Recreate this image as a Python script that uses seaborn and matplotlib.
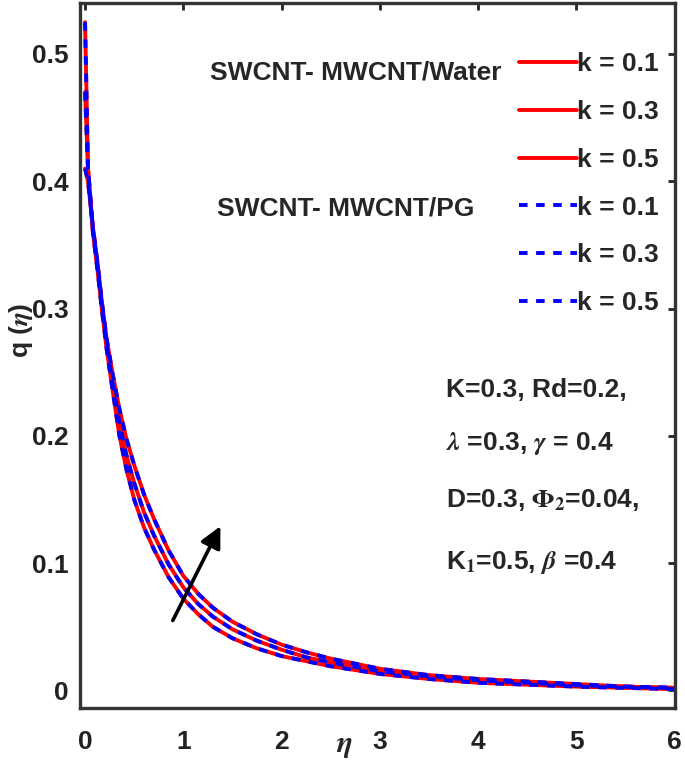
# q(eta) profiles for SWCNT-MWCNT hybrid nanofluids, k varied
import numpy as np
import pandas as pd
import seaborn as sns
import matplotlib.pyplot as plt

# values
eta = [0, 0.03, 0.08, 0.13, 0.17, 0.22, 0.28, 0.35, 0.42, 0.5, 0.6, 0.7, 0.85, 1.0, 1.15, 1.3, 1.5,
       1.75, 2.0, 2.25, 2.5, 3.0, 3.5, 4.0, 4.5, 5.0, 5.5, 6.0]
k_values = ["0.1", "0.3", "0.5"]
q_k01 = [0.525, 0.41, 0.360, 0.328, 0.300, 0.268, 0.236, 0.200, 0.174, 0.150, 0.128, 0.111, 0.089, 0.072,
         0.060, 0.050, 0.041, 0.033, 0.027, 0.023, 0.019, 0.013, 0.009, 0.006, 0.0045, 0.003, 0.002, 0.001]
q_k03 = [0.470, 0.41, 0.362, 0.331, 0.303, 0.272, 0.242, 0.210, 0.185, 0.163, 0.140, 0.122, 0.099, 0.081,
         0.068, 0.058, 0.048, 0.039, 0.032, 0.026, 0.022, 0.015, 0.011, 0.008, 0.006, 0.004, 0.003, 0.002]
q_k05 = [0.410, 0.40, 0.364, 0.334, 0.306, 0.276, 0.249, 0.221, 0.198, 0.177, 0.154, 0.135, 0.110, 0.090,
         0.076, 0.065, 0.054, 0.044, 0.036, 0.030, 0.025, 0.017, 0.012, 0.009, 0.007, 0.005, 0.003, 0.002]

water = pd.DataFrame({"eta": eta * 3,
                      "q": q_k01 + q_k03 + q_k05,
                      "k": sum([[k] * len(eta) for k in k_values], [])})
pg = water.copy()   # PG curves sit on top of the water curves

sns.set_style("white")
plt.rcParams['font.family'] = ['Liberation Sans', 'DejaVu Sans']
plt.rcParams['font.weight'] = 'bold'
plt.rcParams['mathtext.fontset'] = 'stix'

fig = plt.figure(figsize=(6.85, 7.69), dpi=100)
ax = fig.add_axes([0.117, 0.079, 0.868, 0.917])

fs = 19
for k in k_values:
    sns.lineplot(data=water[water.k == k], x="eta", y="q", color="red", lw=2.8,
                 label=f"k = {k}", ax=ax, estimator=None, sort=False)
for k in k_values:
    sns.lineplot(data=pg[pg.k == k], x="eta", y="q", color="blue", lw=2.8,
                 linestyle=(0, (2.2, 2.2)), label=f"k = {k}", ax=ax, estimator=None, sort=False)

ax.set_xlim(-0.05, 6)
ax.set_ylim(-0.014, 0.54)
ax.set_xticks(np.arange(0, 7, 1))
ax.set_yticks([0, 0.1, 0.2, 0.3, 0.4, 0.5])
ax.set_yticklabels(["0", "0.1", "0.2", "0.3", "0.4", "0.5"])
ax.tick_params(direction='in', length=5, width=2, top=True, right=True, labelsize=fs, colors='#222222')
ax.tick_params(axis='x', pad=16)
ax.tick_params(axis='y', pad=8)
for s in ax.spines.values():
    s.set_linewidth(2.4)
    s.set_color('#333333')

ax.set_xlabel("")
ax.set_ylabel("")
fig.text(0.03, 0.57, r"q ($\eta$)", fontsize=fs, fontweight='bold', rotation=90, ha='center', va='center')
ax.text(2.64, -0.043, r"$\eta$", fontsize=fs + 3, ha='center', va='center')

leg = ax.legend(loc='upper left', bbox_to_anchor=(0.738, 0.93), frameon=False, fontsize=fs,
                handlelength=2.2, handletextpad=0.0, labelspacing=0.9, borderpad=0, borderaxespad=0)

ax.text(0.464, 0.902, "SWCNT- MWCNT/Water", transform=ax.transAxes, fontsize=fs, ha='center', va='center')
ax.text(0.447, 0.709, "SWCNT- MWCNT/PG", transform=ax.transAxes, fontsize=fs, ha='center', va='center')

ax.text(0.615, 0.451, "K=0.3, Rd=0.2,", transform=ax.transAxes, fontsize=fs, va='center')
ax.text(0.615, 0.376, r"$\lambda$ =0.3, $\gamma$ = 0.4", transform=ax.transAxes, fontsize=fs, va='center')
ax.text(0.615, 0.295, r"D=0.3, $\Phi_2$=0.04,", transform=ax.transAxes, fontsize=fs, va='center')
ax.text(0.615, 0.207, r"K$_1$=0.5, $\beta$ =0.4", transform=ax.transAxes, fontsize=fs, va='center')

ax.annotate("", xy=(1.39, 0.131), xytext=(0.88, 0.053),
            arrowprops=dict(arrowstyle='-|>', color='black', lw=2.6, mutation_scale=32))

fig.savefig("out.png", dpi=100)
